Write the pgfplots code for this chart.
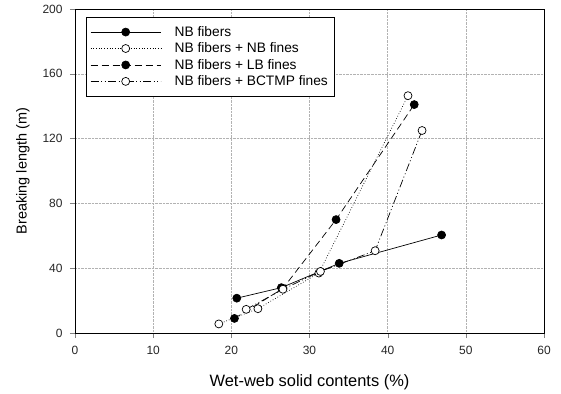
\documentclass[border=0pt]{standalone}
\usepackage{fontspec}
\setmainfont{Liberation Sans}
\usepackage{pgfplots}
\pgfplotsset{compat=1.18}
\begin{document}
\begin{tikzpicture}[x=1bp,y=1bp]
\begin{axis}[
  scale only axis,
  width=469bp, height=324bp,
  xmin=0, xmax=60, ymin=0, ymax=200,
  xtick={0,10,...,60}, ytick={0,40,...,200},
  tick align=outside, major tick length=5bp,
  xtick pos=bottom, ytick pos=left,
  grid=major,
  major grid style={densely dotted, gray!60, line width=0.5pt},
  axis line style={line width=0.9pt},
  /pgf/number format/assume math mode=true,
  tick label style={font=\fontsize{12}{14}\selectfont, color=black!85},
  yticklabel style={xshift=-4bp},
  xticklabel style={yshift=-5bp},
  xlabel={Wet-web solid contents (\%)},
  ylabel={Breaking length (m)},
  xlabel style={font=\fontsize{16.5}{18}\selectfont, yshift=-13bp},
  ylabel style={font=\fontsize{14.5}{16}\selectfont, yshift=6bp},
  legend cell align=left,
  legend style={at={(11bp,316bp)}, anchor=north west, draw=black, line width=0.7pt,
    font=\fontsize{13.8}{15}\selectfont, row sep=1bp, inner xsep=4bp, inner ysep=7bp},
  legend image code/.code={
    \draw[mark repeat=2,mark phase=2] plot coordinates {(0bp,0bp) (35bp,0bp) (70bp,0bp)};
    \path[draw=none,fill=none] (0bp,0bp) -- (82bp,0bp);
  },
  every axis plot/.append style={line width=0.7pt, mark size=4bp},
]
\addplot[black, solid, mark=*, mark options={solid, fill=black}] coordinates {
(20.7,21.5) (26.4,28) (33.8,43) (46.9,60.5)};
\addlegendentry{NB fibers}
\addplot[black, dotted, mark=*, mark options={solid, fill=white}] coordinates {
(18.4,5.6) (23.4,15) (31.2,37) (42.6,146.5)};
\addlegendentry{NB fibers + NB fines}
\addplot[black, dash pattern=on 7bp off 4bp, mark=*, mark options={solid, fill=black}] coordinates {
(20.4,9) (26.6,27.5) (33.4,70) (43.4,141)};
\addlegendentry{NB fibers + LB fines}
\addplot[black, dash pattern=on 8bp off 2.5bp on 1bp off 2.5bp on 1bp off 2.5bp, mark=*, mark options={solid, fill=white}] coordinates {
(21.9,14.6) (26.6,27) (31.4,38) (38.4,50.8) (44.4,125)};
\addlegendentry{NB fibers + BCTMP fines}
\end{axis}
\path (current axis.south west) ++(-75bp,-58bp) coordinate (bbA);
\path (current axis.north east) ++(17bp,9bp) coordinate (bbB);
\useasboundingbox (bbA) rectangle (bbB);
\end{tikzpicture}
\end{document}
